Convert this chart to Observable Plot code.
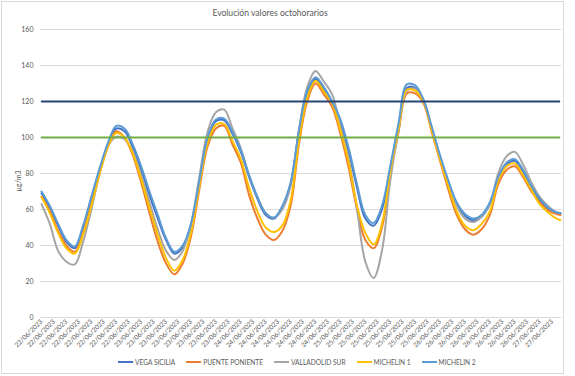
<!DOCTYPE html>
<html>
<head>
<meta charset="utf-8">
<script src="https://cdn.jsdelivr.net/npm/d3@7"></script>
<script src="https://cdn.jsdelivr.net/npm/@observablehq/plot@0.6"></script>
<style>
  body { margin: 0; background: #fff; font-family: Lato, "Liberation Sans", sans-serif; }
  #wrap { position: relative; width: 575px; height: 376px; overflow: hidden; background: #fff; }
  #frame { position: absolute; left: 1px; top: 1px; width: 563px; height: 373px; border: 1px solid #D9D9D9; box-sizing: border-box; pointer-events: none; }
  #chart { position: absolute; left: 0; top: 0; }
  #title { position: absolute; top: 8px; left: 0; width: 540px; text-align: center; font-size: 8.6px; color: #595959; }
  #ylabel { position: absolute; left: 18px; top: 181px; transform: translate(-50%, -50%) rotate(-90deg); font-size: 7px; color: #595959; white-space: nowrap; }
  #legend { position: absolute; top: 358px; left: 118px; display: flex; align-items: center; font-size: 6.6px; color: #595959; white-space: nowrap; }
  #legend .item { display: flex; align-items: center; margin-right: 11px; }
  #legend .sw { width: 15px; height: 2px; margin-right: 2px; }
</style>
</head>
<body>
<div id="wrap">
  <div id="chart"></div>
  <div id="title"></div>
  <div id="ylabel"></div>
  <div id="legend"></div>
  <div id="frame"></div>
</div>
<script>
const title = "Evolución valores octohorarios";
const yLabel = "µg/m3";

// hours since 22/06/2023 00:00
const hours = [0,2,4,6,8,10,12,14,16,18,20,22,24,26,28,30,32,34,36,38,40,42,44,46,48,50,52,54,56,58,60,62,64,66,68,70,72,74,76,78,80,82,84,86,88,90,92,94,96,98,100,102,104,106,108,110,112,114,116,118,120,122,124,125];

const seriesNames = ["VEGA SICILIA", "PUENTE PONIENTE", "VALLADOLID SUR", "MICHELIN 1", "MICHELIN 2"];
const seriesColors = ["#4472C4", "#ED7D31", "#A5A5A5", "#FFC000", "#5B9BD5"];

const vegaSicilia = [69,61,51,42,38.5,50,66,82,96,105,103.5,94.5,82,68,55,43,35.5,39,51,75,99,109,109.5,102,92,78,66,57,55,61,74,103,125,132.5,127,119,108,92,72,55,51,60,82,106,127.5,127.5,120,105,89,75,63,56.5,54,56,63,77,85,87,81,72,65,60.5,58,57.5];
const puentePoniente = [67,59,48,40,36.5,47,63,80,95,103.5,100,90,75,58,42,30,24,30,45,71,95,105,106.5,96,86,68,55,46,43,48,62,96,120,130,124,117,102,83,60,43,38.5,50,79,103,124.5,124.5,119,103,87,71,57,49,46,49,57,74,82,84,78,70,64,59.5,57.5,57];
const valladolidSur = [63,52,37,31,29.5,42,60,80,95,100.5,99,92,79,64,49,37,32,37,52,78,103,114,115.5,105,94,79,67,58,55.5,60,73,104,128,137,131,124,106,88,60,31,22,37,76,104,126,127,121,105,89,74,62,55,53,56,63,80,89.5,92,85,75,67,62,58.5,58];
const michelin1 = [67,58,47,38.5,35.5,46,62,80,95,102.5,100,91,77,61,46,33,26,32,47,73,97,107,107.5,98,88,72,59,50,47.5,51,65,98,122,131.5,125.5,119,104,86,62,47,40.5,52,81,105,126.5,126,120,104,88,73,59,51,48.5,52,59,76,84,85.5,79,71,63,58.5,55,54];
const michelin2 = [70,62,52,43,39.5,51,67,83,97,106.5,105,96,84,70,57,44,36.5,40,52,76,100,110,110.5,103,93,79,67,58,55.5,62,75,104,126,133.5,128,120,110,94,74,57,52.5,62,84,108,129.5,129,121,106,90,76,64,57.5,55,57,64,78,86,88,82,73,66,61,58.5,58];

const limitValues = [100, 120];
const limitColors = ["#70AD47", "#264478"];

const yTicks = [0,20,40,60,80,100,120,140,160];
const tickDays = ["22/06/2023","23/06/2023","24/06/2023","25/06/2023","26/06/2023","27/06/2023"];
const tickHours = [0,3,6,9,12,15,18,21,24,27,30,33,36,39,42,45,48,51,54,57,60,63,66,69,72,75,78,81,84,87,90,93,96,99,102,105,108,111,114,117,120,123];
const tickLabels = tickHours.map(h => tickDays[Math.floor(h / 24)]);

const allSeries = [vegaSicilia, puentePoniente, valladolidSur, michelin1, michelin2];
const rows = [];
allSeries.forEach((vals, s) => vals.forEach((v, i) => rows.push({ hour: hours[i], value: v, name: seriesNames[s] })));

const labelOf = new Map(tickHours.map((h, i) => [h, tickLabels[i]]));

const marks = [
  Plot.gridY(yTicks, { stroke: "#D9D9D9", strokeOpacity: 1, strokeWidth: 1 }),
  Plot.axisY(yTicks, { tickSize: 0, tickPadding: 7, fontSize: 7, fill: "#595959", label: null }),
  Plot.axisX(tickHours, { tickSize: 0, tickPadding: 3, tickRotate: -45, fontSize: 6.6, fill: "#595959",
    tickFormat: d => labelOf.get(d), label: null }),
];
seriesNames.forEach((n, s) => {
  marks.push(Plot.line(rows.filter(r => r.name === n), { x: "hour", y: "value", stroke: seriesColors[s], strokeWidth: 2, curve: "catmull-rom" }));
});
limitValues.forEach((v, i) => {
  marks.push(Plot.ruleY([v], { x1: hours[0], x2: hours[hours.length - 1], stroke: limitColors[i], strokeWidth: 2 }));
});

const chart = Plot.plot({
  width: 575,
  height: 376,
  marginLeft: 40,
  marginRight: 14,
  marginTop: 29,
  marginBottom: 59,
  x: { domain: [-0.25, 125.25] },
  y: { domain: [0, 160] },
  style: { fontFamily: "Lato, 'Liberation Sans', sans-serif", background: "transparent" },
  marks
});
document.getElementById("chart").appendChild(chart);
document.getElementById("title").textContent = title;
document.getElementById("ylabel").textContent = yLabel;
const legend = document.getElementById("legend");
seriesNames.forEach((n, s) => {
  const it = document.createElement("div");
  it.className = "item";
  const sw = document.createElement("span");
  sw.className = "sw";
  sw.style.background = seriesColors[s];
  const t = document.createElement("span");
  t.textContent = n;
  it.appendChild(sw); it.appendChild(t);
  legend.appendChild(it);
});
</script>
</body>
</html>
